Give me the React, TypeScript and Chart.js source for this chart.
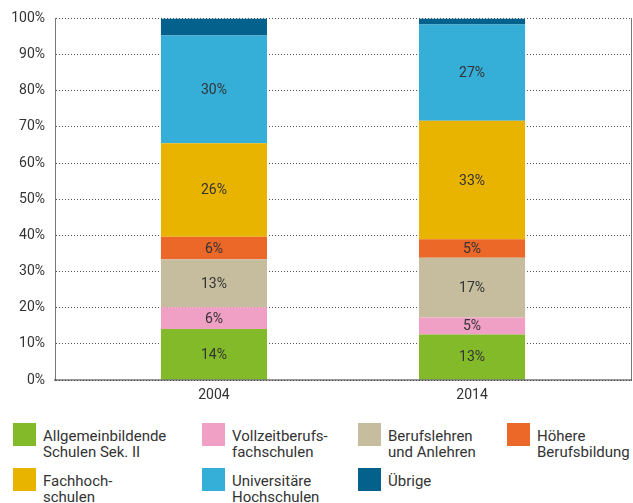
import React, { useEffect, useRef } from "react";
import { Chart, registerables } from "chart.js";

Chart.register(...registerables);

const years = ["2004", "2014"];
const allgemein = [14.1, 12.6];
const vollzeit = [6.0, 4.7];
const berufslehren = [13.3, 16.5];
const hoehere = [6.2, 5.1];
const fachhoch = [25.9, 32.8];
const uni = [29.8, 26.6];
const uebrige = [4.7, 1.7];
const yTicks = [0, 10, 20, 30, 40, 50, 60, 70, 80, 90, 100];

const series = [
  { lines: ["Allgemeinbildende", "Schulen Sek. II"], values: allgemein, color: "#83BA29", label: true },
  { lines: ["Vollzeitberufs-", "fachschulen"], values: vollzeit, color: "#F09FC5", label: true },
  { lines: ["Berufslehren", "und Anlehren"], values: berufslehren, color: "#C5BD9E", label: true },
  { lines: ["Höhere", "Berufsbildung"], values: hoehere, color: "#EC6828", label: true },
  { lines: ["Fachhoch-", "schulen"], values: fachhoch, color: "#E9B400", label: true },
  { lines: ["Universitäre", "Hochschulen"], values: uni, color: "#35AED8", label: true },
  { lines: ["Übrige"], values: uebrige, color: "#03618B", label: false },
];

const FONT = "Roboto, 'DejaVu Sans', sans-serif";
const TEXT = "#333333";

const segmentLabels = {
  id: "segmentLabels",
  afterDatasetsDraw(chart: any) {
    const ctx = chart.ctx;
    ctx.save();
    ctx.font = `14px ${FONT}`;
    ctx.fillStyle = TEXT;
    ctx.textAlign = "center";
    ctx.textBaseline = "middle";
    chart.data.datasets.forEach((ds: any, di: number) => {
      if (!series[di].label) return;
      const meta = chart.getDatasetMeta(di);
      meta.data.forEach((el: any, i: number) => {
        const v = series[di].values[i];
        const { x, y, base } = el.getProps(["x", "y", "base"], true);
        ctx.fillText(`${Math.round(v)}%`, x, (y + base) / 2 + 1);
      });
    });
    ctx.restore();
  },
};

export default function App() {
  const ref = useRef<HTMLCanvasElement | null>(null);

  useEffect(() => {
    if (!ref.current) return;
    const chart = new Chart(ref.current, {
      type: "bar",
      data: {
        datasets: series.map((s) => ({
          label: s.lines.join(" "),
          data: s.values.map((v, i) => ({ x: i, y: v })),
          backgroundColor: s.color,
          borderWidth: 0,
          barPercentage: 1,
          categoryPercentage: 0.411,
        })),
      },
      options: {
        responsive: false,
        animation: false,
        layout: { padding: { left: 0, right: 2, top: 18, bottom: 0 } },
        plugins: { legend: { display: false }, tooltip: { enabled: false } },
        scales: {
          x: {
            type: "linear",
            stacked: true,
            offset: false,
            min: -0.616,
            max: 1.616,
            afterBuildTicks: (scale: any) => {
              scale.ticks = years.map((_, i) => ({ value: i }));
            },
            afterFit: (scale: any) => {
              scale.height = 30;
            },
            ticks: {
              padding: 7,
              color: TEXT,
              font: { family: FONT, size: 14 },
              callback: (v: any) => years[v] ?? "",
            },
            grid: { display: false, drawTicks: false, offset: false },
            border: { display: true, color: "rgba(70,70,70,0.55)", width: 2, z: 1 },
          },
          y: {
            stacked: true,
            min: 0,
            max: 100,
            afterBuildTicks: (scale: any) => {
              scale.ticks = yTicks.map((v) => ({ value: v }));
            },
            afterFit: (scale: any) => {
              scale.width = 55;
            },
            ticks: {
              padding: 10,
              color: TEXT,
              font: { family: FONT, size: 14 },
              callback: (v: any) => `${v}%`,
            },
            grid: { color: "#555555", lineWidth: 1, drawTicks: false },
            border: { display: true, color: "#777777", width: 1, dash: [1, 2] },
          },
          y2: {
            position: "right",
            min: 0,
            max: 100,
            afterFit: (scale: any) => {
              scale.width = 0;
            },
            ticks: { display: false },
            grid: { display: false, drawTicks: false },
            border: { display: true, color: "#777777", width: 1, dash: [1, 2] },
          },
        },
      },
      plugins: [segmentLabels],
    } as any);
    return () => chart.destroy();
  }, []);

  const boxLeft = [13, 202, 358, 507];
  const boxTop = [423, 468];

  return (
    <div style={{ position: "absolute", left: 0, top: 0, width: 633, height: 503, background: "#fff", overflow: "hidden" }}>
      <canvas ref={ref} width={633} height={410} style={{ position: "absolute", left: 0, top: 0, width: 633, height: 410 }} />
      {series.map((s, i) => {
        const col = i % 4;
        const row = Math.floor(i / 4);
        return (
          <div key={i}>
            <div
              style={{
                position: "absolute",
                left: boxLeft[col],
                top: boxTop[row],
                width: 23,
                height: 23,
                background: s.color,
              }}
            />
            <div
              style={{
                position: "absolute",
                left: boxLeft[col] + 30,
                top: boxTop[row] + 6,
                fontFamily: FONT,
                fontSize: 15,
                lineHeight: "15.5px",
                color: TEXT,
                whiteSpace: "nowrap",
              }}
            >
              {s.lines.map((l, k) => (
                <div key={k}>{l}</div>
              ))}
            </div>
          </div>
        );
      })}
    </div>
  );
}
